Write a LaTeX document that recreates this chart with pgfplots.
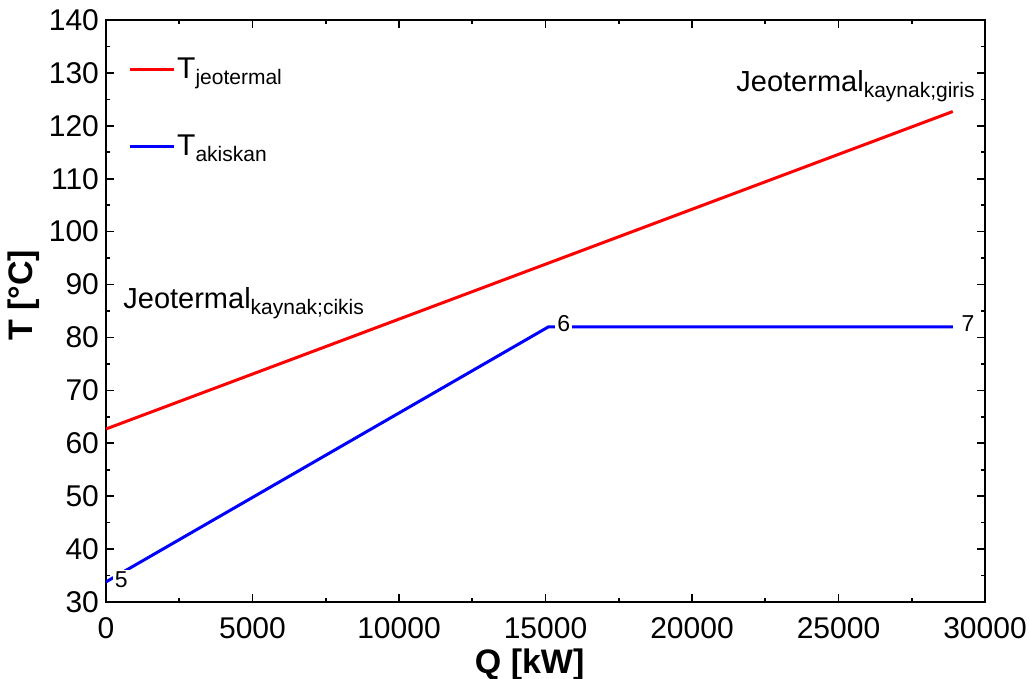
\documentclass[border=0pt]{standalone}
\usepackage{fontspec}
\setmainfont{Liberation Sans}
\usepackage{pgfplots}
\pgfplotsset{compat=1.18}
\newcommand\sub[1]{\raisebox{-3pt}{\fontsize{10.5}{12}\selectfont #1}}
\begin{document}
\begin{tikzpicture}
\begin{axis}[
  scale only axis,
  width=439.5pt, height=291pt,
  xmin=0, xmax=30000, ymin=30, ymax=140,
  xtick={0,5000,...,30000}, ytick={30,40,...,140},
  minor x tick num=1, minor y tick num=1,
  tick align=inside, tick pos=both,
  major tick length=4pt, minor tick length=2pt,
  scaled ticks=false,
  /pgf/number format/1000 sep={},
  /pgf/number format/assume math mode=true,
  tick label style={font=\fontsize{15}{18}\selectfont},
  xticklabel style={yshift=-4pt},
  axis line style={line width=1pt},
  every tick/.style={black, line width=0.8pt},
  xlabel={\textbf{Q [kW]}},
  ylabel={\textbf{T [°C]}},
  label style={font=\fontsize{17}{20}\selectfont},
  xlabel style={at={(axis description cs:0.482,0)}, anchor=north, yshift=-20pt},
  ylabel style={at={(axis description cs:0,0.527)}, anchor=south, yshift=29.5pt},
  legend style={draw=none, fill=none, at={(axis description cs:0.018,0.95)}, anchor=north west,
    font=\fontsize{15}{18}\selectfont, row sep=23pt, nodes={inner xsep=1pt}},
  legend cell align=left,
  legend image code/.code={\draw[#1] (0pt,0pt) -- (22pt,0pt);},
]
\coordinate (sw) at (rel axis cs:0,0);
\addplot[red, line width=1.5pt] coordinates {(0,62.7) (28900,122.7)};
\addlegendentry{T\sub{jeotermal}}
\addplot[blue, line width=1.5pt] coordinates {(0,33.8) (15100,82.0) (28900,82.0)};
\addlegendentry{T\sub{akiskan}}
\node[fill=white, inner sep=1pt, font=\fontsize{11.5}{13}\selectfont] at (axis cs:520,34.2) {5};
\node[fill=white, inner sep=1pt, font=\fontsize{11.5}{13}\selectfont] at (axis cs:15620,82.6) {6};
\node[inner sep=1pt, font=\fontsize{11.5}{13}\selectfont] at (axis cs:29420,82.6) {7};
\node[anchor=base east, inner sep=0pt, font=\fontsize{14.5}{16}\selectfont] at (axis cs:29660,126.4) {Jeotermal\sub{kaynak;giris}};
\node[anchor=base west, inner sep=0pt, font=\fontsize{14.5}{16}\selectfont] at (axis cs:580,85.4) {Jeotermal\sub{kaynak;cikis}};
\end{axis}
\pgfresetboundingbox
\path ([shift={(-53pt,-38.5pt)}]sw) rectangle ([shift={(462pt,301pt)}]sw);
\end{tikzpicture}
\end{document}
